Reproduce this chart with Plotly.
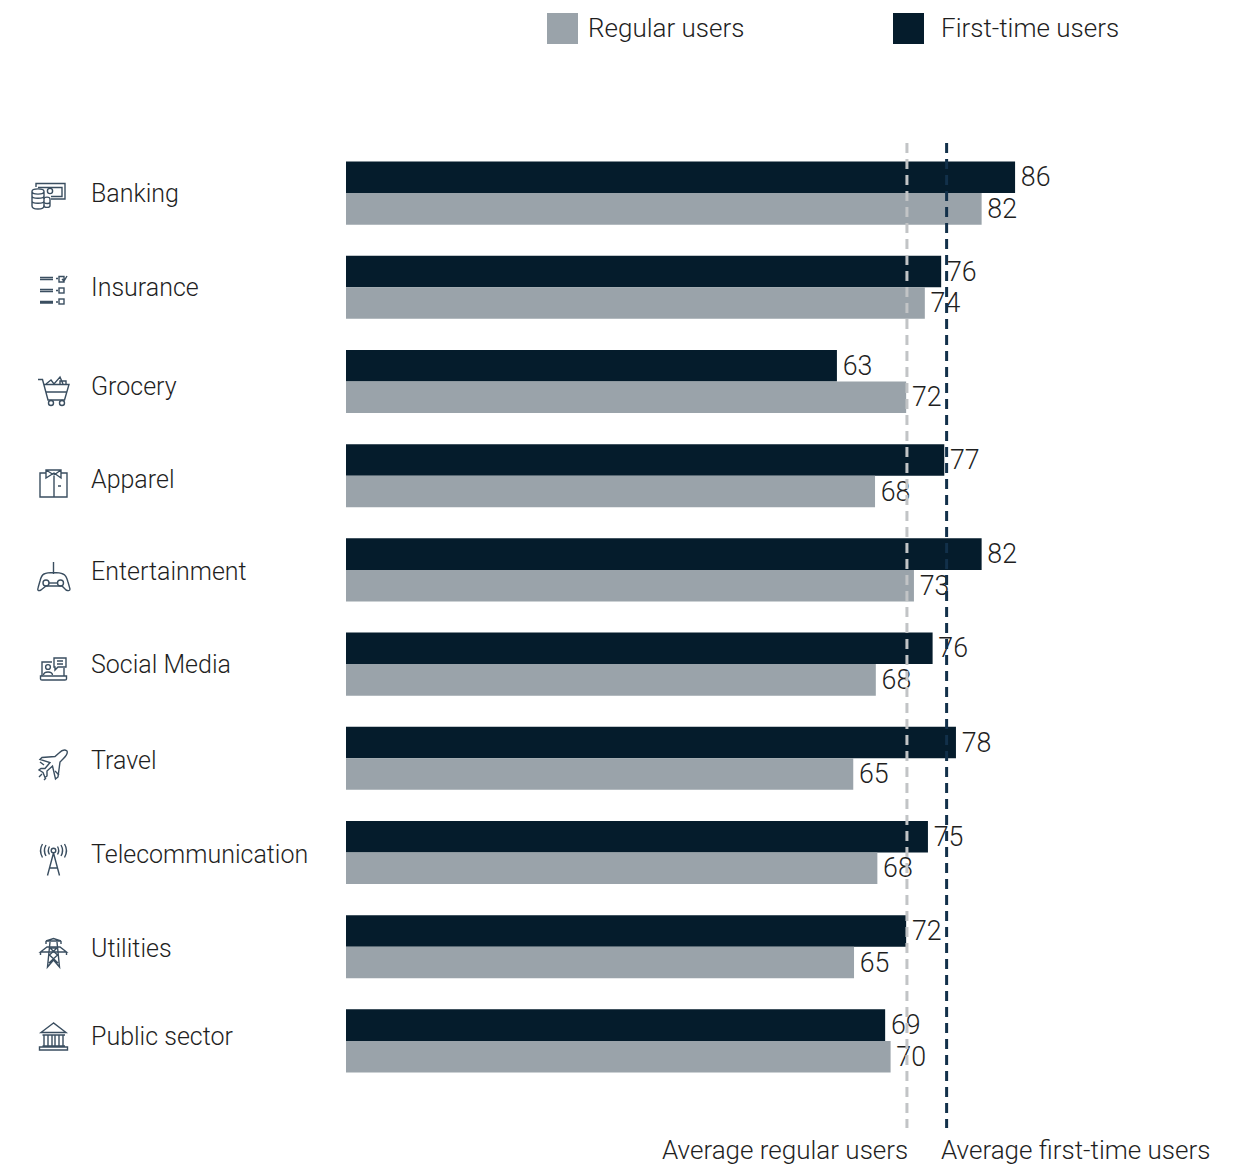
import base64
import plotly.graph_objects as go

categories = ["Banking", "Insurance", "Grocery", "Apparel", "Entertainment",
              "Social Media", "Travel", "Telecommunication", "Utilities", "Public sector"]
first_time_labels = [86, 76, 63, 77, 82, 76, 78, 75, 72, 69]
regular_labels = [82, 74, 72, 68, 73, 68, 65, 68, 65, 70]
# Bar lengths as drawn in the picture (the printed labels are rounded)
first_time = [86.0, 76.5, 63.1, 76.9, 81.7, 75.4, 78.4, 74.8, 72.0, 69.3]
regular = [81.7, 74.4, 72.0, 68.0, 73.0, 68.1, 65.2, 68.3, 65.3, 70.0]
avg_regular = 72.1
avg_first_time = 77.2
series_names = ["Regular users", "First-time users"]
avg_labels = ["Average regular users", "Average first-time users"]

W, H = 1247, 1165
L, R, T, B = 346, 0, 146, 77
PW, PH = W - L - R, H - T - B
DARK, GREY = "#051c2c", "#9aa3aa"
TEXT = "#1f1f1f"
FONT = "Roboto"
label_yshift = [0, 0, -5, -4, -2, 0, -2, -2, -2, 4]


def px(x):
    return (x - L) / PW


def py(y):
    return 1 - (y - T) / PH


# Decorative pictograms, one SVG laid over the page in page pixels
icons = """
<g>
<path d="M36 187V183.5H65V199H51M38 187.5H62V196.5H51"/><circle cx="50" cy="191" r="2.6"/>
<path d="M32 191.5C32 188 44 188 44 191.5V206C44 210 32 210 32 206ZM32 191.5C32 195 44 195 44 191.5M32 196C32 199 44 199 44 196M32 201C32 204 44 204 44 201"/>
<path d="M44 199C44 196.5 50 196.5 50 199V205.5C50 208 44 208 44 205.5M44 202.5C46 204 50 204 50 202"/>
</g>
<g>
<path d="M40 277.5H53M40 279.5H53M56 278.5H58M40 289.5H53M40 291.5H53M56 290.5H58M40 301.5H53M40 303H53M56 302H58"/>
<path d="M59 276.5H64V282H59ZM62 279L64 281L67 276"/><rect x="59" y="288" width="5" height="5"/><rect x="59" y="299" width="5" height="5"/>
</g>
<g>
<path d="M38 379.5H42.5L48 400H64.5L69 384.5H44M46 392H67"/>
<circle cx="51" cy="403" r="2.5"/><circle cx="62" cy="403" r="2.5"/>
<path d="M46 384L51 380L54 384L60 377L63 384M60 384V381H66V384"/>
</g>
<g>
<path d="M46 473H40V497H67V473H61M46 470H61V478L54 473L46 478ZM46 470L54 475L61 470M54 476V497M58 486H61"/>
</g>
<g>
<path d="M53.5 562V574M44 574C48 572 59 572 63 574C66 575 67 578 68 582L70 589C70 591 68 591 66 590L62 586H46L41 590C39 591 37 591 38 588L40 581C41 577 42 575 44 574Z"/>
<circle cx="46" cy="583" r="3"/><circle cx="60.5" cy="583" r="3"/><path d="M49 583H57.5"/>
</g>
<g>
<path d="M42 676V662H52M64 668V676M40.5 676H66.5V679C66.5 680 66 680 65 680H42C41 680 40.5 680 40.5 679Z"/>
<path d="M54 658H66V667H58L55 670V667H54ZM57 661H63M57 664H63"/>
<circle cx="48" cy="667" r="2.4"/><path d="M43.5 675C44 671 52 671 52.5 675"/>
</g>
<g>
<path d="M67 751C68 753 66 756 63 759L60 762L58 777L55.5 779L52.5 766L47 771V776L45 777.5L43 772.5L39 770L41 768.5H45L50 762.5L40 759.5L42 757.5L55 756.5L59 753C62 750 65 749.5 67 751Z"/>
<path d="M40 762L44 765M42 774L39 777M46 778L44 780M55 771L59 775"/>
</g>
<g>
<path d="M53.5 853L47.5 875.5M53.5 853L59.5 875.5M49.5 868H57.5"/><circle cx="53.5" cy="850.5" r="2.3"/>
<path d="M49.5 846.5C48 849 48 852 49.5 854.5M57.5 846.5C59 849 59 852 57.5 854.5M46 845C44 848.5 44 852.5 46 856M61 845C63 848.5 63 852.5 61 856M42.5 844C40 848 40 853 42.5 857.5M64.5 844C67 848 67 853 64.5 857.5"/>
</g>
<g>
<path d="M50 942L47.5 967L53.5 960L59.5 967L57 942M50 948L57.5 955L49 963M57 948L49.5 955L58 963M50 948H57"/>
<path d="M46 941H61L53.5 938.5ZM40.5 952L47 947H60L66.5 952ZM46 941V944M61 941V944M40.5 952V955M66.5 952V955"/>
</g>
<g>
<path d="M53.5 1023L41 1032.5H66ZM42.5 1035H65M44 1035V1046M48 1035V1046M52 1035V1046M55 1035V1046M59 1035V1046M63 1035V1046M42.5 1046H65M39.5 1047H67.5V1050H39.5Z"/>
</g>
"""
svg = (f'<svg xmlns="http://www.w3.org/2000/svg" width="{W}" height="{H}" viewBox="0 0 {W} {H}">'
       f'<g fill="none" stroke="#3a4e60" stroke-width="1.4">{icons}</g></svg>')
icon_src = "data:image/svg+xml;base64," + base64.b64encode(svg.encode()).decode()

fig = go.Figure()
fig.add_bar(y=categories, x=first_time, name=series_names[1], orientation="h",
            marker=dict(color=DARK, line_width=0), text=[f"\u200a{v}" for v in first_time_labels],
            textposition="outside",
            cliponaxis=False, textfont=dict(family=FONT, size=28, color=TEXT, weight=300))
fig.add_bar(y=categories, x=regular, name=series_names[0], orientation="h",
            marker=dict(color=GREY, line_width=0), text=[f"\u200a{v}" for v in regular_labels],
            textposition="outside",
            cliponaxis=False, textfont=dict(family=FONT, size=28, color=TEXT, weight=300))

shapes = [
    dict(type="line", xref="x", yref="paper", x0=avg_regular, x1=avg_regular,
         y0=py(143), y1=py(1128), line=dict(color="#c2c4c6", width=3, dash="10px,6px"), layer="above"),
    dict(type="line", xref="x", yref="paper", x0=avg_first_time, x1=avg_first_time,
         y0=py(143), y1=py(1128), line=dict(color="#12304a", width=3, dash="10px,6px"), layer="above"),
    dict(type="rect", xref="paper", yref="paper", x0=px(547), x1=px(578), y0=py(44), y1=py(13),
         fillcolor=GREY, line_width=0),
    dict(type="rect", xref="paper", yref="paper", x0=px(893), x1=px(924), y0=py(44), y1=py(13),
         fillcolor=DARK, line_width=0),
]

annotations = []


def note(text, x, y, anchor="left", size=26):
    annotations.append(dict(text=text, xref="paper", yref="paper", x=px(x), y=py(y), xanchor=anchor,
                            yanchor="middle", showarrow=False, borderpad=0,
                            font=dict(family=FONT, size=size, color=TEXT, weight=300)))


note(series_names[0], 587, 28)
note(series_names[1], 940, 28)
note(avg_labels[0], 909, 1150, "right")
note(avg_labels[1], 940, 1150)
for cat, shift in zip(categories, label_yshift):
    annotations.append(dict(text=cat, xref="paper", yref="y", x=px(90), y=cat, xanchor="left",
                            yanchor="middle", showarrow=False, borderpad=0, yshift=shift,
                            font=dict(family=FONT, size=25, color=TEXT, weight=300)))

fig.update_layout(
    width=W, height=H, margin=dict(l=L, r=R, t=T, b=B, pad=0, autoexpand=False),
    paper_bgcolor="white", plot_bgcolor="white", showlegend=False,
    barmode="group", bargap=0.33, bargroupgap=0,
    xaxis=dict(range=[0, PW / 7.78], visible=False, fixedrange=True),
    yaxis=dict(autorange="reversed", visible=False, fixedrange=True),
    shapes=shapes, annotations=annotations,
    images=[dict(source=icon_src, xref="paper", yref="paper", x=px(0), y=py(0),
                 sizex=W / PW, sizey=H / PH, xanchor="left", yanchor="top",
                 sizing="stretch", layer="above")],
)
fig.write_html("out.html", config={"displayModeBar": False},
               post_script="document.body.style.margin='0';")
